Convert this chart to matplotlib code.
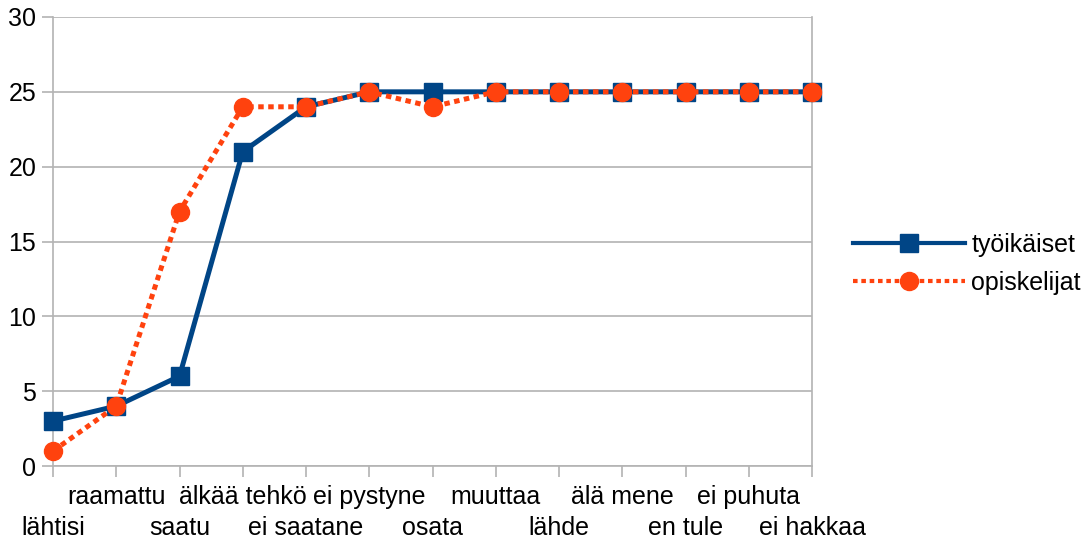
import matplotlib
matplotlib.use('Agg')
import matplotlib.pyplot as plt

# data
categories = ['lähtisi', 'raamattu', 'saatu', 'älkää tehkö', 'ei saatane', 'ei pystyne',
              'osata', 'muuttaa', 'lähde', 'älä mene', 'en tule', 'ei puhuta', 'ei hakkaa']
tyoikaiset = [3, 4, 6, 21, 24, 25, 25, 25, 25, 25, 25, 25, 25]
opiskelijat = [1, 4, 17, 24, 24, 25, 24, 25, 25, 25, 25, 25, 25]

plt.rcParams['font.family'] = ['Liberation Sans', 'DejaVu Sans']

fig = plt.figure(figsize=(10.86, 5.46), dpi=100)
ax = fig.add_axes([53/1086, 1-466/546, (812-53)/1086, (466-17)/546])

x = list(range(len(categories)))
ax.plot(x, tyoikaiset, color='#004586', lw=3.6, marker='s', ms=13.5,
        label='työikäiset', clip_on=False, zorder=3)
ax.plot(x, opiskelijat, color='#ff420e', lw=3.6, ls=(0, (1.1, 0.9)), marker='o', ms=13,
        label='opiskelijat', clip_on=False, zorder=4)

ax.set_xlim(0, 12)
ax.set_ylim(0, 30)
ax.set_yticks(range(0, 31, 5))
# alternate labels on two rows: even ones (major) low, odd ones (minor) high
ax.set_xticks(x[0::2])
ax.set_xticklabels(categories[0::2])
ax.set_xticks(x[1::2], minor=True)
ax.set_xticklabels(categories[1::2], minor=True)
ax.tick_params(axis='both', which='both', labelsize=18, colors='#b3b3b3',
               labelcolor='black', length=8, width=1.2)
ax.tick_params(axis='x', which='major', pad=28.3)
ax.tick_params(axis='x', which='minor', pad=6)
ax.tick_params(axis='y', pad=4)

ax.grid(axis='y', color='#b3b3b3', lw=1.2)
ax.set_axisbelow(True)
for s in ['left', 'right', 'bottom']:
    ax.spines[s].set_color('#b3b3b3')
    ax.spines[s].set_linewidth(1.2)
ax.spines['top'].set_visible(False)

leg = fig.legend(loc='center left', bbox_to_anchor=(830/1086, 1-264/546), frameon=False,
                 fontsize=18, handlelength=4.5, labelspacing=0.55, handletextpad=0.25)
for h in leg.legend_handles:
    h.set_linewidth(3)

plt.savefig('out.png', dpi=100)
